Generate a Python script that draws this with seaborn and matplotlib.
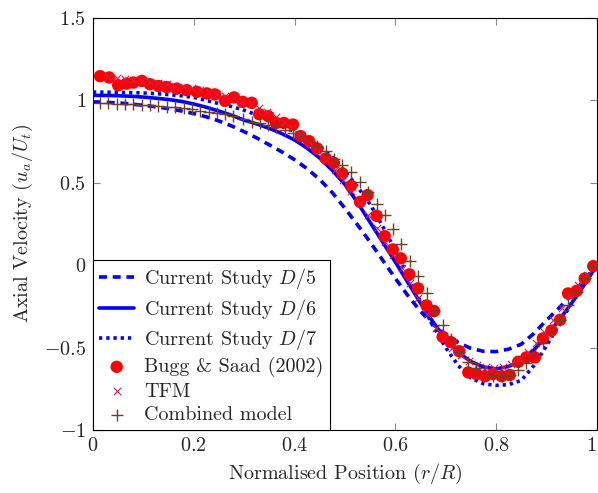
import matplotlib
matplotlib.use("Agg")
import matplotlib.pyplot as plt
import seaborn as sns
from matplotlib.ticker import FuncFormatter

# ---------------- data ----------------
line_x = [0.0, 0.025, 0.05, 0.075, 0.1, 0.125, 0.15, 0.175, 0.2, 0.225, 0.25, 0.275,
          0.3, 0.325, 0.35, 0.375, 0.4, 0.425, 0.45, 0.475, 0.5, 0.525, 0.55, 0.575,
          0.6, 0.625, 0.65, 0.675, 0.7, 0.725, 0.75, 0.775, 0.8, 0.825, 0.85, 0.875,
          0.9, 0.925, 0.95, 0.975, 1.0]
d5_y = [0.99, 0.988, 0.985, 0.978, 0.97, 0.961, 0.95, 0.936, 0.92, 0.90, 0.875, 0.845,
        0.81, 0.772, 0.73, 0.687, 0.64, 0.585, 0.52, 0.44, 0.345, 0.245, 0.14, 0.03,
        -0.08, -0.185, -0.28, -0.36, -0.42, -0.47, -0.505, -0.523, -0.525, -0.51,
        -0.48, -0.415, -0.335, -0.26, -0.18, -0.09, 0.0]
d6_y = [1.03, 1.03, 1.028, 1.025, 1.02, 1.013, 1.005, 0.994, 0.978, 0.958, 0.935, 0.91,
        0.88, 0.857, 0.83, 0.798, 0.76, 0.71, 0.65, 0.575, 0.49, 0.38, 0.26, 0.14,
        0.02, -0.105, -0.23, -0.345, -0.45, -0.53, -0.585, -0.618, -0.63, -0.615,
        -0.58, -0.515, -0.43, -0.335, -0.23, -0.12, 0.0]
d7_y = [1.05, 1.05, 1.049, 1.047, 1.045, 1.041, 1.035, 1.028, 1.018, 1.0, 0.98, 0.963,
        0.94, 0.912, 0.88, 0.847, 0.81, 0.768, 0.72, 0.655, 0.57, 0.475, 0.37, 0.235,
        0.09, -0.065, -0.22, -0.37, -0.50, -0.61, -0.685, -0.72, -0.73, -0.725,
        -0.70, -0.61, -0.49, -0.36, -0.23, -0.11, 0.0]

bugg_x = [0.014, 0.032, 0.050, 0.067, 0.080, 0.097, 0.113, 0.130, 0.146, 0.166, 0.186,
          0.206, 0.226, 0.242, 0.262, 0.280, 0.297, 0.315, 0.330, 0.348, 0.363, 0.379,
          0.397, 0.412, 0.429, 0.445, 0.462, 0.478, 0.495, 0.512, 0.530, 0.545, 0.563,
          0.579, 0.595, 0.611, 0.628, 0.645, 0.662, 0.677, 0.694, 0.710, 0.727, 0.745,
          0.761, 0.778, 0.794, 0.811, 0.827, 0.844, 0.860, 0.877, 0.893, 0.910, 0.927,
          0.943, 0.960, 0.976, 0.993]
bugg_y = [1.147, 1.139, 1.092, 1.102, 1.108, 1.118, 1.098, 1.087, 1.081, 1.071, 1.062,
          1.052, 1.042, 1.036, 0.997, 1.018, 0.991, 0.985, 0.916, 0.904, 0.863, 0.863,
          0.853, 0.783, 0.752, 0.708, 0.647, 0.621, 0.556, 0.481, 0.384, 0.425, 0.299,
          0.176, 0.095, 0.041, -0.056, -0.141, -0.245, -0.279, -0.435, -0.467, -0.523,
          -0.651, -0.661, -0.674, -0.661, -0.674, -0.667, -0.587, -0.560, -0.560,
          -0.445, -0.397, -0.332, -0.172, -0.156, -0.081, -0.006]

tfm_x = [0.030, 0.047, 0.063, 0.080, 0.097, 0.113, 0.130, 0.146, 0.163, 0.180, 0.197,
         0.213, 0.230, 0.246, 0.263, 0.280, 0.296, 0.313, 0.330, 0.346, 0.363, 0.380,
         0.396, 0.413, 0.430, 0.446, 0.463, 0.480, 0.496, 0.513, 0.530, 0.546, 0.563,
         0.580, 0.596, 0.613, 0.630, 0.646, 0.663, 0.680, 0.696, 0.713, 0.730, 0.746,
         0.763, 0.780, 0.796, 0.813, 0.830, 0.846, 0.863, 0.880, 0.896, 0.913, 0.930,
         0.946, 0.963, 0.980, 0.996]
tfm_y = [1.140, 1.135, 1.130, 1.125, 1.120, 1.112, 1.105, 1.097, 1.090, 1.082, 1.073,
         1.063, 1.052, 1.040, 1.027, 1.012, 0.995, 0.975, 0.952, 0.927, 0.898, 0.866,
         0.830, 0.789, 0.744, 0.694, 0.639, 0.580, 0.515, 0.448, 0.378, 0.305, 0.225,
         0.140, 0.060, -0.020, -0.110, -0.200, -0.295, -0.380, -0.450, -0.505, -0.548,
         -0.582, -0.606, -0.620, -0.625, -0.618, -0.600, -0.568, -0.525, -0.470,
         -0.405, -0.335, -0.262, -0.190, -0.122, -0.058, 0.000]

comb_x = [0.014, 0.030, 0.047, 0.063, 0.080, 0.097, 0.113, 0.130, 0.146, 0.163, 0.180,
          0.197, 0.213, 0.230, 0.246, 0.262, 0.278, 0.298, 0.315, 0.331, 0.348, 0.364,
          0.381, 0.397, 0.412, 0.429, 0.445, 0.462, 0.478, 0.495, 0.513, 0.530, 0.545,
          0.563, 0.579, 0.595, 0.612, 0.629, 0.645, 0.662, 0.677, 0.694, 0.710, 0.727,
          0.745, 0.761, 0.778, 0.794, 0.811, 0.827, 0.844, 0.860, 0.877, 0.893, 0.910,
          0.927, 0.943, 0.960, 0.976, 0.993]
comb_y = [0.985, 0.983, 0.981, 0.979, 0.977, 0.974, 0.970, 0.966, 0.962, 0.957, 0.952,
          0.946, 0.938, 0.930, 0.925, 0.918, 0.904, 0.884, 0.870, 0.863, 0.850, 0.836,
          0.819, 0.800, 0.780, 0.755, 0.725, 0.690, 0.645, 0.607, 0.566, 0.505, 0.445,
          0.374, 0.303, 0.222, 0.127, 0.026, -0.067, -0.172, -0.276, -0.364, -0.450,
          -0.526, -0.587, -0.627, -0.657, -0.674, -0.674, -0.667, -0.637, -0.597,
          -0.546, -0.471, -0.399, -0.330, -0.243, -0.162, -0.081, -0.006]

x_ticks = [0, 0.2, 0.4, 0.6, 0.8, 1.0]
y_ticks = [-1, -0.5, 0, 0.5, 1, 1.5]

# ---------------- style ----------------
sns.set_style("ticks")
plt.rcParams["font.family"] = ["cmr10", "DejaVu Serif"]
plt.rcParams["mathtext.fontset"] = "cm"
plt.rcParams["axes.unicode_minus"] = False
plt.rcParams["axes.formatter.use_mathtext"] = True

FS = 14.5

fig = plt.figure(figsize=(5.98, 4.93), dpi=100)
ax = fig.add_axes([0.1555, 0.128, 0.8425, 0.8355])

blue = "#0000ff"
sns.lineplot(x=line_x, y=d5_y, ax=ax, color=blue, lw=2.6, linestyle=(0, (2.2, 1.6)),
             label="Current Study $D/5$", zorder=3)
sns.lineplot(x=line_x, y=d6_y, ax=ax, color=blue, lw=2.6, linestyle="-",
             label="Current Study $D/6$", zorder=3)
sns.lineplot(x=line_x, y=d7_y, ax=ax, color=blue, lw=2.6, linestyle=(0, (0.9, 1.1)),
             label="Current Study $D/7$", zorder=3)
sns.scatterplot(x=bugg_x, y=bugg_y, ax=ax, color="#ff0000", marker="o", s=80,
                edgecolor="none", label="Bugg & Saad (2002)", zorder=4)
sns.scatterplot(x=tfm_x, y=tfm_y, ax=ax, color="#d81b4a", marker="x", s=28,
                linewidth=0.8, label="TFM", zorder=5)
sns.scatterplot(x=comb_x, y=comb_y, ax=ax, color="#6b4226", marker="+", s=70,
                linewidth=1.0, label="Combined model", zorder=6)

ax.set_xlim(0, 1)
ax.set_ylim(-1, 1.5)
ax.set_xticks(x_ticks)
ax.set_yticks(y_ticks)
fmt = FuncFormatter(lambda v, p: "$%g$" % v)
ax.xaxis.set_major_formatter(fmt)
ax.yaxis.set_major_formatter(fmt)
ax.tick_params(direction="in", length=5, width=0.8, color="#888888",
               labelsize=FS, top=True, right=True, pad=5)
for s in ax.spines.values():
    s.set_color("black")
    s.set_linewidth(0.8)
    s.set_visible(True)

ax.set_xlabel("Normalised Position ($r/R$)", fontsize=FS, labelpad=5)
ax.set_ylabel("Axial Velocity ($u_a/U_t$)", fontsize=FS, labelpad=6)

leg = ax.legend(loc="lower left", bbox_to_anchor=(0, 0), fontsize=FS, frameon=True,
                fancybox=False, edgecolor="black", framealpha=1, borderaxespad=0,
                handlelength=1.75, handletextpad=0.5, labelspacing=0.26,
                borderpad=0.3)
leg.get_frame().set_linewidth(0.8)

# keep the last x tick label inside the figure edge
fig.canvas.draw()
ax.xaxis.get_major_ticks()[-1].label1.set_horizontalalignment("right")

fig.savefig("out.png", dpi=100)
